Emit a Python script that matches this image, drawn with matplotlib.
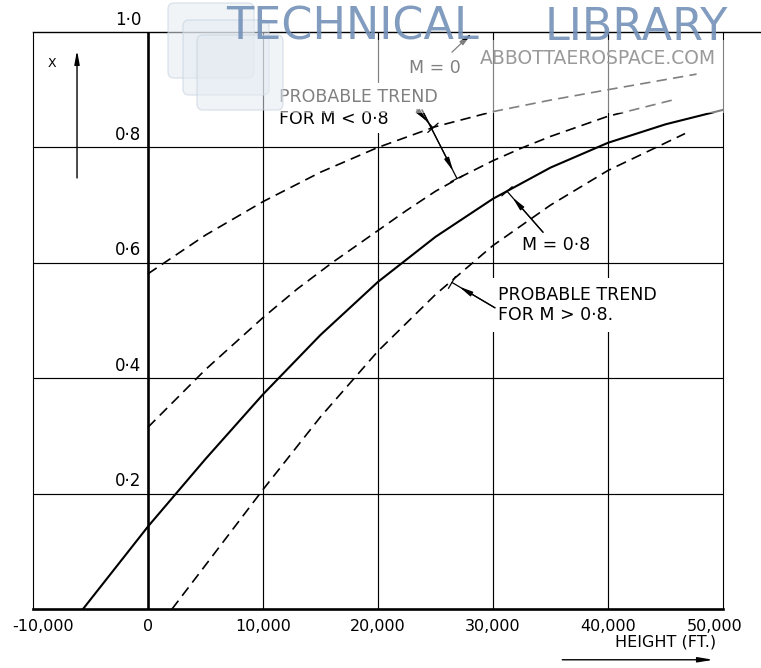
import matplotlib
matplotlib.use('Agg')
import matplotlib.pyplot as plt
import matplotlib.transforms as mtransforms
from matplotlib.patches import Rectangle, FancyBboxPatch

plt.rcParams['font.family'] = ['DejaVu Sans']
plt.rcParams['lines.scale_dashes'] = False

# ---------------- data (height in ft, X value) ----------------
m08_x = [-5650, 0, 5000, 10000, 15000, 20000, 25000, 30000, 35000, 40000, 45000, 50000]
m08_y = [0.0, 0.143, 0.260, 0.372, 0.475, 0.567, 0.645, 0.711, 0.765, 0.808, 0.840, 0.865]

trend_lo_a_x = [0, 5000, 10000, 15000, 20000, 25000, 30000, 35000, 40000, 47700]
trend_lo_a_y = [0.581, 0.648, 0.706, 0.757, 0.800, 0.836, 0.862, 0.882, 0.900, 0.927]

trend_lo_b_x = [0, 5000, 10000, 13000, 16000, 20000, 22500, 25000, 27500, 30000, 32500, 35000, 40000, 46000]
trend_lo_b_y = [0.315, 0.415, 0.505, 0.555, 0.600, 0.656, 0.691, 0.724, 0.752, 0.777, 0.799, 0.819, 0.854, 0.884]

trend_hi_x = [2090, 5000, 10000, 15000, 20000, 25000, 30000, 35000, 40000, 46700]
trend_hi_y = [0.0, 0.076, 0.207, 0.333, 0.447, 0.545, 0.630, 0.700, 0.760, 0.824]

m0_x = [-10000, 53300]
m0_y = [1.0, 1.0]

x_ticks = [-10000, 0, 10000, 20000, 30000, 40000, 50000]
x_labels = ['-10,000', '0', '10,000', '20,000', '30,000', '40,000', '50,000']
y_ticks = [0.2, 0.4, 0.6, 0.8, 1.0]
y_labels = ['0·2', '0·4', '0·6', '0·8', '1·0']
x_grid = [10000, 20000, 30000, 40000]
y_grid = [0.2, 0.4, 0.6, 0.8]

DASH = (0, (7.5, 4.5))

fig = plt.figure(figsize=(7.61, 6.68), dpi=100)
ax = fig.add_axes([33 / 761, 59 / 668, 690 / 761, 577 / 668])
ax.set_xlim(-10000, 50000)
ax.set_ylim(0, 1)

for s in ['left', 'right']:
    ax.spines[s].set_linewidth(0.8)
ax.spines['bottom'].set_linewidth(1.9)
ax.spines['top'].set_visible(False)

for xv in x_grid:
    ax.axvline(xv, color='k', lw=0.85, zorder=1)
for yv in y_grid:
    ax.axhline(yv, color='k', lw=0.85, zorder=1)
ax.axvline(0, color='k', lw=1.9, zorder=1)

# M = 0 line (X = 1.0), extends past the frame
ax.plot(m0_x, m0_y, color='k', lw=1.0, clip_on=False, zorder=2)

ax.plot(m08_x, m08_y, color='k', lw=1.5, zorder=4)
for xs, ys in [(trend_lo_a_x, trend_lo_a_y), (trend_lo_b_x, trend_lo_b_y), (trend_hi_x, trend_hi_y)]:
    ax.plot(xs, ys, color='k', lw=1.2, linestyle=DASH, zorder=4)

ax.set_xticks(x_ticks)
ax.set_xticklabels(x_labels, fontsize=11.5)
ax.tick_params(axis='x', length=0, pad=7)
ax.set_yticks([])
labs = ax.get_xticklabels()
labs[0].set_transform(labs[0].get_transform() + mtransforms.ScaledTranslation(0.10, 0, fig.dpi_scale_trans))
labs[-1].set_transform(labs[-1].get_transform() + mtransforms.ScaledTranslation(-0.08, 0, fig.dpi_scale_trans))

for v, lab in zip(y_ticks, y_labels):
    ax.text(-600, v + 0.006, lab, ha='right', va='bottom', fontsize=12, clip_on=False)

# axis annotations
ax.text(0.0275, 0.946, 'X', transform=ax.transAxes, ha='center', va='center', fontsize=9)
ax.annotate('', xy=(0.0638, 0.968), xytext=(0.0638, 0.747), xycoords='axes fraction',
            arrowprops=dict(arrowstyle='-|>,head_length=0.8,head_width=0.15', lw=1.0, color='k',
                            shrinkA=0, shrinkB=0, mutation_scale=10))
ax.text(0.917, -0.057, 'HEIGHT (FT.)', transform=ax.transAxes, ha='center', va='center', fontsize=11.5)
ax.annotate('', xy=(0.986, -0.088), xytext=(0.767, -0.088), xycoords='axes fraction',
            annotation_clip=False,
            arrowprops=dict(arrowstyle='-|>,head_length=0.9,head_width=0.15', lw=1.0, color='k',
                            shrinkA=0, shrinkB=0, mutation_scale=10))

# curve labels
ax.text(11390, 0.868, 'PROBABLE TREND\nFOR M < 0·8', ha='left', va='center', fontsize=12.5,
        linespacing=1.3, zorder=3, bbox=dict(boxstyle='square,pad=0.3', fc='white', ec='none'))
ax.text(35480, 0.631, 'M = 0·8', ha='center', va='center', fontsize=12.5, zorder=3)
ax.text(30440, 0.527, 'PROBABLE TREND\nFOR M > 0·8.', ha='left', va='center', fontsize=12.5,
        linespacing=1.15, zorder=3, bbox=dict(boxstyle='square,pad=0.45', fc='white', ec='none'))
ax.text(24960, 0.938, 'M = 0', ha='center', va='center', fontsize=12.5, zorder=3)


def leader(start, tip):
    ax.annotate('', xy=tip, xytext=start,
                arrowprops=dict(arrowstyle='-[,widthB=0.5,lengthB=0', lw=0.9, color='k',
                                shrinkA=0, shrinkB=0, mutation_scale=10), zorder=5)
    ax.annotate('', xy=tip, xytext=start,
                arrowprops=dict(arrowstyle='-|>,head_length=0.8,head_width=0.15', lw=0.9, color='k',
                                shrinkA=0, shrinkB=6, mutation_scale=10), zorder=5)


leader((23390, 0.865), (24780, 0.834))
leader((23830, 0.865), (26870, 0.746))
leader((34350, 0.653), (31220, 0.724))
leader((30170, 0.522), (26430, 0.566))
ax.annotate('', xy=(28170, 0.998), xytext=(26430, 0.965),
            arrowprops=dict(arrowstyle='-|>,head_length=0.8,head_width=0.15', lw=0.9, color='k',
                            shrinkA=0, shrinkB=0, mutation_scale=10), zorder=5)

# ---------------- watermark overlay (pixel coordinates) ----------------
ov = fig.add_axes([0, 0, 1, 1], zorder=10)
ov.set_xlim(0, 761)
ov.set_ylim(668, 0)
ov.axis('off')
ov.patch.set_alpha(0)

ov.add_patch(Rectangle((268, 40), 493, 73, fc='white', ec='none', alpha=0.5))
for (x0, y0) in [(168, 3), (183, 20), (197, 35)]:
    ov.add_patch(FancyBboxPatch((x0, y0), 86, 75, boxstyle='round,pad=0,rounding_size=6',
                                fc='#e4ebf2', ec='#c4d1df', lw=1.0, alpha=0.55))
ov.text(226, 40, 'TECHNICAL', ha='left', va='baseline', fontsize=32, color='#7391b8', alpha=0.9)
ov.text(545, 40, 'LIBRARY', ha='left', va='baseline', fontsize=32, color='#7391b8', alpha=0.9)
ov.text(480, 64, 'ABBOTTAEROSPACE.COM', ha='left', va='baseline', fontsize=13.5, color='#9a9a9a')

fig.savefig('out.png', dpi=100)
